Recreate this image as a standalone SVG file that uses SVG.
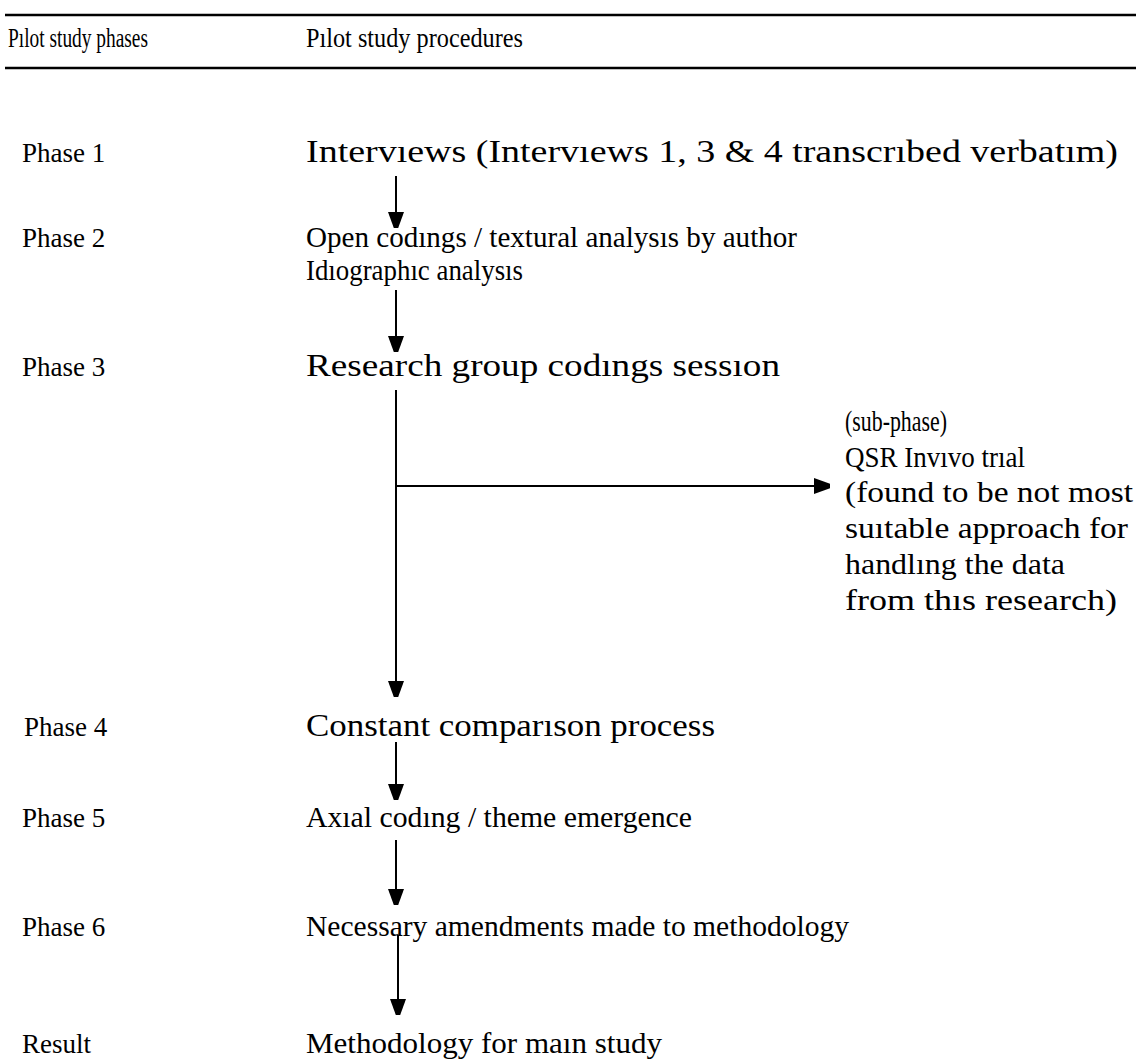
<svg xmlns="http://www.w3.org/2000/svg" width="1136" height="1064" viewBox="0 0 1136 1064">
<style>
text{font-family:"Liberation Serif","Times New Roman",serif;fill:#000}
.h{font-size:27px}
.p{font-size:27px}
.q{font-size:29px}
.w{font-size:31px}
.s{font-size:30px}
.rule{stroke:#000;stroke-width:2.5}
.c{stroke:#000;stroke-width:2;fill:none}
</style>
<defs>
<marker id="ah" markerWidth="16" markerHeight="22" refX="16" refY="8" orient="auto" markerUnits="userSpaceOnUse" viewBox="0 0 16 22">
<path d="M0,0 L22,8 L0,16 Z" fill="#000"/>
</marker>
</defs>
<g id="header">
<line class="rule" x1="5" y1="15" x2="1136" y2="15"/>
<line class="rule" x1="5" y1="68" x2="1136" y2="68"/>
<text class="h" x="8" y="47" textLength="140" lengthAdjust="spacingAndGlyphs">Pılot study phases</text>
<text class="h" x="306" y="47" textLength="217" lengthAdjust="spacingAndGlyphs">Pılot study procedures</text>
</g>
<g id="phases">
<text class="p" x="22" y="162">Phase 1</text>
<text class="p" x="22" y="247">Phase 2</text>
<text class="p" x="22" y="376">Phase 3</text>
<text class="p" x="24" y="736">Phase 4</text>
<text class="p" x="22" y="827">Phase 5</text>
<text class="p" x="22" y="936">Phase 6</text>
<text class="p" x="22" y="1053">Result</text>
</g>
<g id="p1"><text class="w" x="306" y="162" textLength="812" lengthAdjust="spacingAndGlyphs">Intervıews (Intervıews 1, 3 &amp; 4 transcrıbed verbatım)</text></g>
<g id="p2"><text class="q" x="306" y="247" textLength="491" lengthAdjust="spacingAndGlyphs">Open codıngs / textural analysıs by author</text><text class="q" x="306" y="280" textLength="217" lengthAdjust="spacingAndGlyphs">Idıographıc analysıs</text></g>
<g id="p3"><text class="w" x="306" y="376" textLength="474" lengthAdjust="spacingAndGlyphs">Research group codıngs sessıon</text></g>
<g id="sub">
<text class="s" x="845" y="431" textLength="102" lengthAdjust="spacingAndGlyphs">(sub-phase)</text>
<text class="s" x="845" y="467" textLength="180" lengthAdjust="spacingAndGlyphs">QSR Invıvo trıal</text>
<text class="s" x="845" y="502" textLength="288" lengthAdjust="spacingAndGlyphs">(found to be not most</text>
<text class="s" x="845" y="538" textLength="283" lengthAdjust="spacingAndGlyphs">suıtable approach for</text>
<text class="s" x="845" y="574" textLength="220" lengthAdjust="spacingAndGlyphs">handlıng the data</text>
<text class="s" x="845" y="610" textLength="272" lengthAdjust="spacingAndGlyphs">from thıs research)</text>
</g>
<g id="p4"><text class="w" x="306" y="736" textLength="409" lengthAdjust="spacingAndGlyphs">Constant comparıson process</text></g>
<g id="p5"><text class="q" x="306" y="827" textLength="386" lengthAdjust="spacingAndGlyphs">Axıal codıng / theme emergence</text></g>
<g id="p6"><text class="q" x="306" y="936" textLength="543" lengthAdjust="spacingAndGlyphs">Necessary amendments made to methodology</text></g>
<g id="result"><text class="q" x="306" y="1053" textLength="356" lengthAdjust="spacingAndGlyphs">Methodology for maın study</text></g>
<g id="connectors">
<line class="c" x1="396" y1="176" x2="396" y2="228" marker-end="url(#ah)"/>
<line class="c" x1="396" y1="290" x2="396" y2="352" marker-end="url(#ah)"/>
<line class="c" x1="396" y1="390" x2="396" y2="697" marker-end="url(#ah)"/>
<line class="c" x1="396" y1="486" x2="830" y2="486" marker-end="url(#ah)"/>
<line class="c" x1="396" y1="742" x2="396" y2="800" marker-end="url(#ah)"/>
<line class="c" x1="396" y1="840" x2="396" y2="905" marker-end="url(#ah)"/>
<line class="c" x1="398" y1="935" x2="398" y2="1015" marker-end="url(#ah)"/>
</g>
</svg>
